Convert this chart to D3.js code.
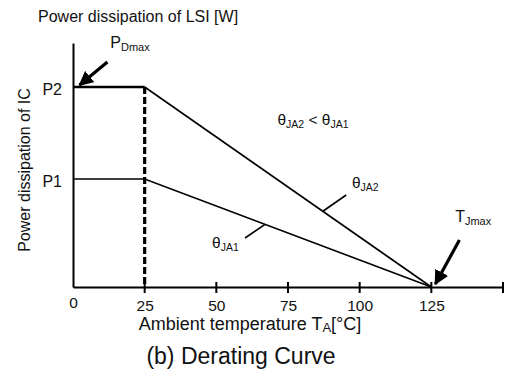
<!DOCTYPE html>
<html>
<head>
<meta charset="utf-8">
<script src="https://cdn.jsdelivr.net/npm/d3@7"></script>
<style>
html,body{margin:0;padding:0;background:#fff;}
text{font-family:Arial,"Liberation Sans",sans-serif;fill:#111;}
</style>
</head>
<body>
<svg id="chart" width="507" height="370"></svg>
<script>
// ---- data ----
const xTicks = [0, 25, 50, 75, 100, 125, 150];
const xTickLabels = ["0", "25", "50", "75", "100", "125", ""];
const yTickValues = [1.08, 2.0];
const yTickLabels = ["P1", "P2"];
const curveP2 = [[0, 2.0], [25, 2.0], [125, 0]];
const curveP1 = [[0, 1.08], [25, 1.08], [125, 0]];
const deratingStart = 25;
const tjMax = 125;
const xMax = 150, yMax = 2.44;

const svg = d3.select("#chart");
const x = d3.scaleLinear().domain([0, xMax]).range([73, 503]);
const y = d3.scaleLinear().domain([0, yMax]).range([287, 43]);

// title
svg.append("text").attr("x", 38).attr("y", 22).style("font-size", "16px")
  .text("Power dissipation of LSI [W]");

// y label
svg.append("text").attr("transform", "translate(30,170) rotate(-90)")
  .attr("text-anchor", "middle").style("font-size", "16px")
  .text("Power dissipation of IC");

// x axis
const xAxis = d3.axisBottom(x).tickValues(xTicks).tickSizeInner(0).tickSizeOuter(0)
  .tickFormat((d, i) => xTickLabels[i]);
const gx = svg.append("g").attr("transform", `translate(0,${y(0)})`).call(xAxis);
gx.select(".domain").attr("stroke", "#000").attr("stroke-width", 2);
gx.selectAll(".tick line").remove();
gx.selectAll(".tick text").style("font-size", "15.5px").attr("fill", "#111")
  .attr("font-family", "Arial, Liberation Sans").attr("y", 0)
  .attr("dy", d => d === 0 ? 21 : 24);
// crossing ticks
svg.selectAll(".xt").data(xTicks.slice(1)).enter().append("line")
  .attr("x1", d => x(d)).attr("x2", d => x(d))
  .attr("y1", y(0) - 5).attr("y2", y(0) + 6)
  .attr("stroke", "#000").attr("stroke-width", 2);

// y axis
const yAxis = d3.axisLeft(y).tickValues(yTickValues).tickSize(0)
  .tickFormat((d, i) => yTickLabels[i]);
const gy = svg.append("g").attr("transform", `translate(${x(0)},0)`).call(yAxis);
gy.select(".domain").attr("stroke", "#000").attr("stroke-width", 2);
gy.selectAll(".tick text").style("font-size", "16px").attr("fill", "#111")
  .attr("font-family", "Arial, Liberation Sans").attr("x", -11).attr("dy", "0.45em");

// curves
const line = d3.line().x(d => x(d[0])).y(d => y(d[1]));
svg.append("path").datum(curveP2.slice(0, 2)).attr("d", line)
  .attr("fill", "none").attr("stroke", "#000").attr("stroke-width", 2.5);
svg.append("path").datum(curveP2.slice(1)).attr("d", line)
  .attr("fill", "none").attr("stroke", "#000").attr("stroke-width", 1.6);
svg.append("path").datum(curveP1).attr("d", line)
  .attr("fill", "none").attr("stroke", "#000").attr("stroke-width", 1.6);

// dashed vertical
svg.append("line").attr("x1", x(deratingStart)).attr("x2", x(deratingStart))
  .attr("y1", y(curveP2[1][1])).attr("y2", y(0))
  .attr("stroke", "#000").attr("stroke-width", 3.2).attr("stroke-dasharray", "7,3");

// arrow marker
svg.append("defs").append("marker").attr("id", "ah")
  .attr("viewBox", "0 0 10 10").attr("refX", 9).attr("refY", 5)
  .attr("markerWidth", 4.6).attr("markerHeight", 4.6).attr("orient", "auto")
  .attr("markerUnits", "strokeWidth")
  .append("path").attr("d", "M0,0 L10,5 L0,10 z").attr("fill", "#000");

const arrows = [
  {from: [12, 2.25], to: [2.3, 2.02]},
  {from: [134.8, 0.47], to: [126.4, 0.03]}
];
svg.selectAll(".arr").data(arrows).enter().append("line")
  .attr("x1", d => x(d.from[0])).attr("y1", d => y(d.from[1]))
  .attr("x2", d => x(d.to[0])).attr("y2", d => y(d.to[1]))
  .attr("stroke", "#000").attr("stroke-width", 3.2).attr("marker-end", "url(#ah)");

// leaders
const leaders = [
  {from: [87.3, 0.76], to: [95.3, 0.92]},
  {from: [60, 0.49], to: [67, 0.626]}
];
svg.selectAll(".ld").data(leaders).enter().append("line")
  .attr("x1", d => x(d.from[0])).attr("y1", d => y(d.from[1]))
  .attr("x2", d => x(d.to[0])).attr("y2", d => y(d.to[1]))
  .attr("stroke", "#000").attr("stroke-width", 1.6);

// labels with subscripts
function sub(sel, parts, size, subSize) {
  parts.forEach(p => {
    const t = sel.append("tspan").text(p[0]);
    if (p[1]) t.style("font-size", subSize + "px").attr("dy", 3);
    else t.style("font-size", size + "px").attr("dy", p[2] || 0);
  });
}
const labels = [
  {pos: [13.0, 2.39], parts: [["P"], ["Dmax", 1]], size: 16, subSize: 11},
  {pos: [133.3, 0.65], parts: [["T"], ["Jmax", 1]], size: 16, subSize: 11},
  {pos: [71.3, 1.62], parts: [["θ"], ["JA2", 1], [" < θ", 0, -3], ["JA1", 1]], size: 15.5, subSize: 10.5},
  {pos: [97.3, 0.99], parts: [["θ"], ["JA2", 1]], size: 15.5, subSize: 10.5},
  {pos: [48.5, 0.39], parts: [["θ"], ["JA1", 1]], size: 15.5, subSize: 10.5}
];
labels.forEach(l => {
  const t = svg.append("text").attr("x", x(l.pos[0])).attr("y", y(l.pos[1]))
    .style("font-size", l.size + "px");
  sub(t, l.parts, l.size, l.subSize);
});

// x label
const xl = svg.append("text").attr("x", 250).attr("y", 330).attr("text-anchor", "middle")
  .style("font-size", "18px");
xl.append("tspan").text("Ambient temperature T");
xl.append("tspan").text("A").style("font-size", "13px").attr("dy", 2);
xl.append("tspan").text("[°C]").attr("dy", -2);

// caption
svg.append("text").attr("x", 241).attr("y", 364).attr("text-anchor", "middle")
  .style("font-size", "23px").text("(b) Derating Curve");
</script>
</body>
</html>
